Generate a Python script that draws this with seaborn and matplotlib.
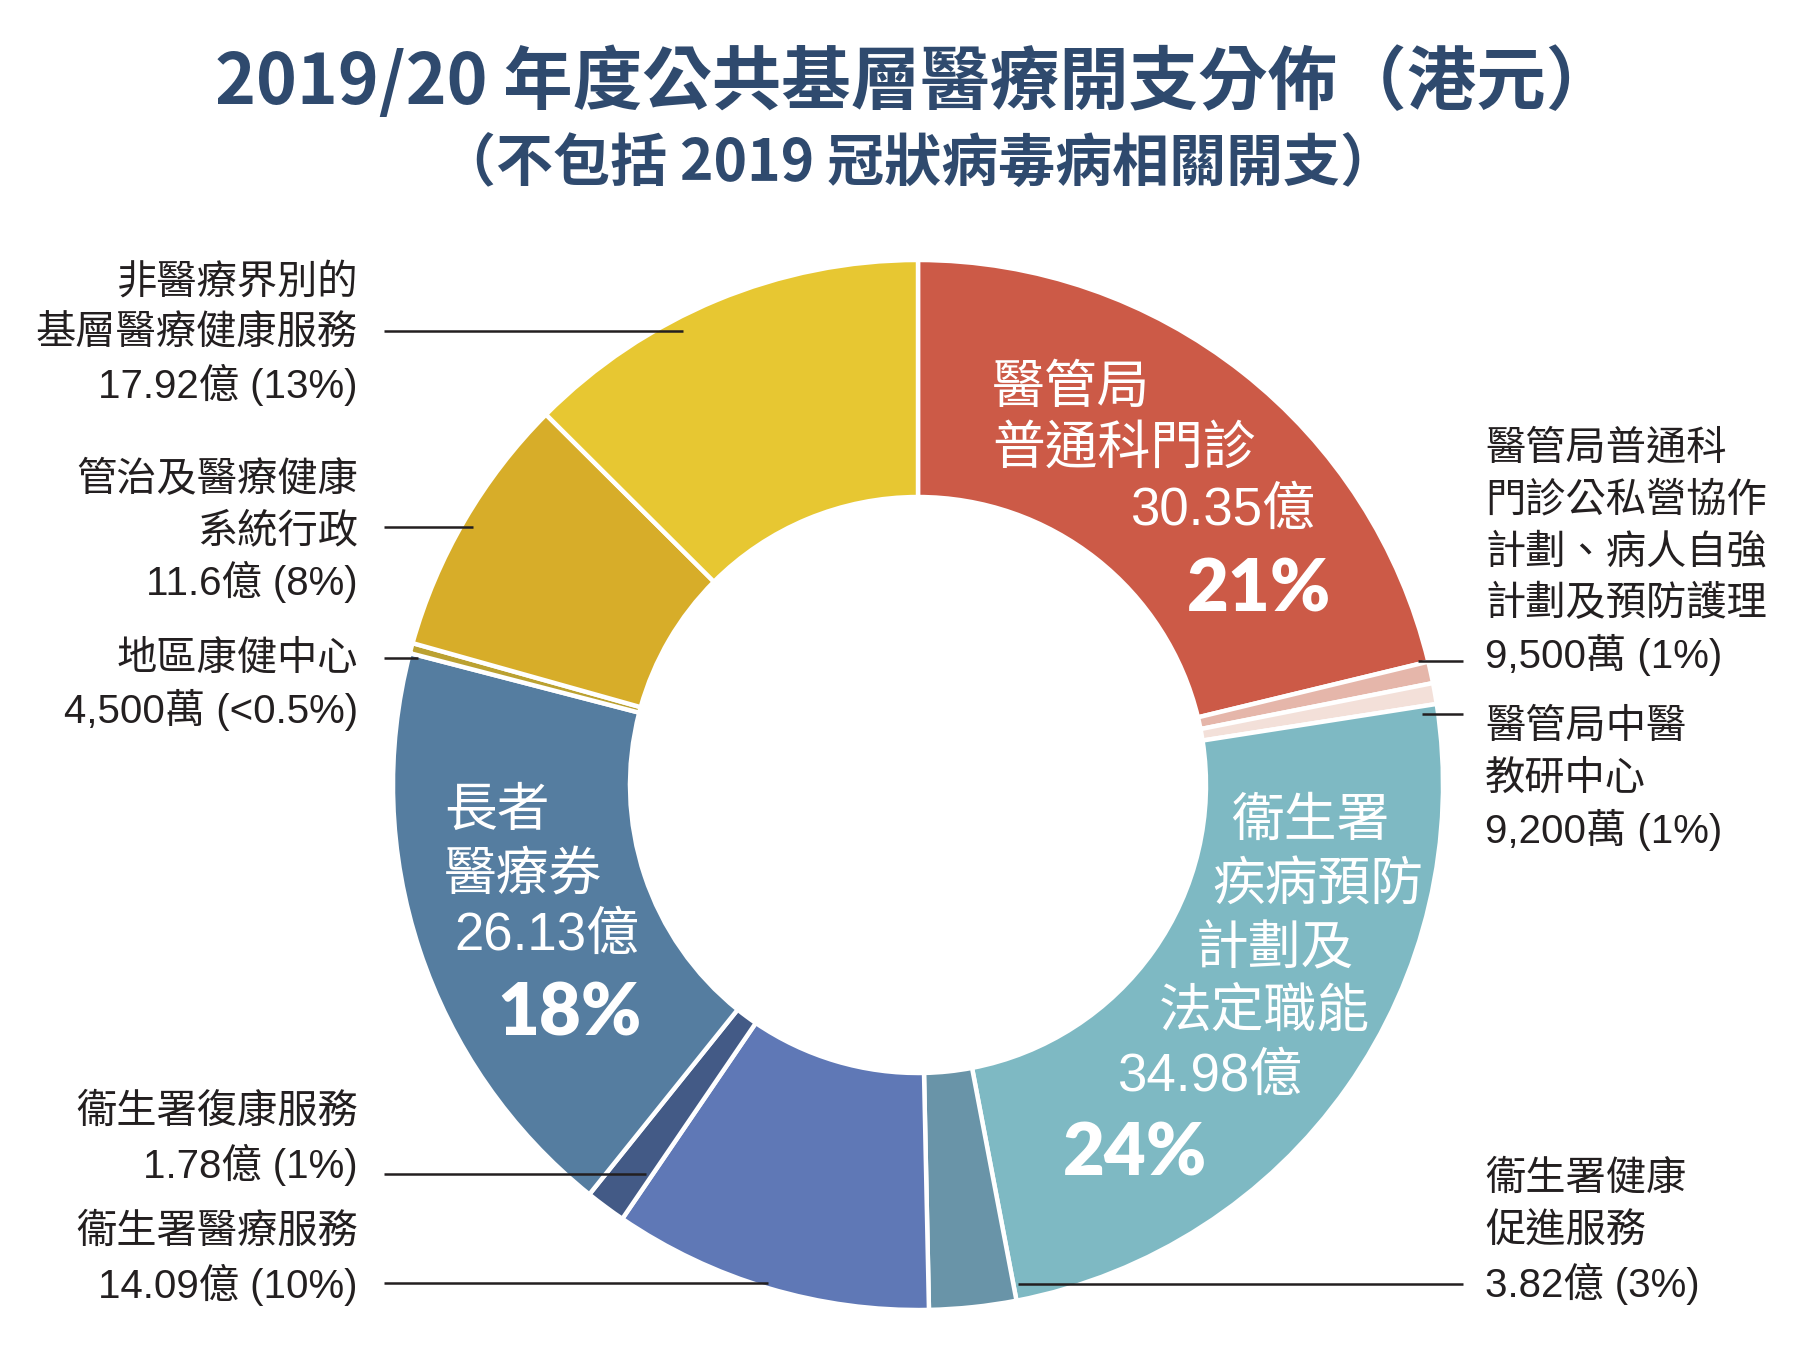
import matplotlib
matplotlib.use("Agg")
import matplotlib.pyplot as plt
import seaborn as sns

sns.set_theme(style="white")
plt.rcParams['font.family'] = ['Liberation Sans', 'Noto Sans CJK TC', 'DejaVu Sans']

# ---- data (億港元) ----
categories = [
    "醫管局普通科門診",
    "醫管局普通科門診公私營協作計劃、病人自強計劃及預防護理",
    "醫管局中醫教研中心",
    "衞生署疾病預防計劃及法定職能",
    "衞生署健康促進服務",
    "衞生署醫療服務",
    "衞生署復康服務",
    "長者醫療券",
    "地區康健中心",
    "管治及醫療健康系統行政",
    "非醫療界別的基層醫療健康服務",
]
values = [30.35, 0.95, 0.92, 34.98, 3.82, 14.09, 1.78, 26.13, 0.45, 11.6, 17.92]
colors = ["#CC5A47", "#E5B6AA", "#F3E0D9", "#7EB9C3", "#6994A8", "#5F78B6",
          "#435A86", "#557DA0", "#BBA131", "#D7AD29", "#E7C732"]

title = "2019/20 年度公共基層醫療開支分佈（港元）"
subtitle = "（不包括 2019 冠狀病毒病相關開支）"

W, H = 1800, 1355
fig = plt.figure(figsize=(W / 100, H / 100), dpi=100)
ax = fig.add_axes([0, 0, 1, 1])

def Y(y):
    return H - y

cx, cy, R, r_in = 918, 785, 525, 288
ax.pie(values, colors=colors, startangle=90, counterclock=False,
       radius=R, center=(cx, Y(cy)),
       wedgeprops=dict(width=R - r_in, edgecolor="white", linewidth=3.2))
ax.set_xlim(0, W)
ax.set_ylim(0, H)
ax.set_aspect("equal")
ax.axis("off")

TITLE_C = "#2F4A6E"
TXT_C = "#231F20"
fam_title = ['Noto Sans CJK TC', 'DejaVu Sans']

ax.text(915, Y(83), title, ha="center", va="center", fontsize=50,
        fontweight="bold", color=TITLE_C, family=fam_title)
ax.text(918, Y(165), subtitle, ha="center", va="center", fontsize=41,
        fontweight="bold", color=TITLE_C, family=fam_title)

def lines(x, y0, texts, ha, size=29, gap=50, color=TXT_C, weight="normal", fam=None):
    for i, t in enumerate(texts):
        kw = {}
        if fam:
            kw['family'] = fam
        ax.text(x, Y(y0 + i * gap), t, ha=ha, va="center", fontsize=size,
                color=color, fontweight=weight, **kw)

def leader(x0, x1, y):
    ax.plot([x0, x1], [Y(y), Y(y)], color=TXT_C, lw=1.8, solid_capstyle="butt")

# left labels
lines(358, 283, ["非醫療界別的", "基層醫療健康服務", "17.92億 (13%)"], "right", gap=51)
leader(384, 683, 331)
lines(358, 480, ["管治及醫療健康", "系統行政", "11.6億 (8%)"], "right", gap=51)
leader(384, 473, 527)
lines(358, 659, ["地區康健中心", "4,500萬 (<0.5%)"], "right", gap=51)
leader(384, 418, 658)
lines(358, 1112, ["衞生署復康服務", "1.78億 (1%)"], "right", gap=53)
leader(384, 646, 1174)
lines(358, 1232, ["衞生署醫療服務", "14.09億 (10%)"], "right", gap=53)
leader(384, 768, 1283)

# right labels
lines(1485, 449, ["醫管局普通科", "門診公私營協作", "計劃、病人自強", "計劃及預防護理", "9,500萬 (1%)"], "left", gap=51.5)
leader(1418, 1463, 661)
lines(1485, 727, ["醫管局中醫", "教研中心", "9,200萬 (1%)"], "left", gap=51.5)
leader(1422, 1463, 714)
lines(1485, 1179, ["衞生署健康", "促進服務", "3.82億 (3%)"], "left", gap=52.5)
leader(1018, 1463, 1284)

# inside labels
W_C = "white"
IN = 38
PCT = 52
fam_pct = ['Lato', 'DejaVu Sans']
lines(992, 389, ["醫管局", "普通科門診"], "left", size=IN, gap=61, color=W_C)
ax.text(1222, Y(511), "30.35億", ha="center", va="center", fontsize=IN, color=W_C)
ax.text(1259, Y(590), "21%", ha="center", va="center", fontsize=PCT, color=W_C,
        fontweight="heavy", family=fam_pct)

for (x, y, t) in [(1310, 822, "衞生署"), (1318, 886, "疾病預防"), (1275, 950, "計劃及"),
                  (1264, 1013, "法定職能"), (1209, 1077, "34.98億")]:
    ax.text(x, Y(y), t, ha="center", va="center", fontsize=IN, color=W_C)
ax.text(1135, Y(1154), "24%", ha="center", va="center", fontsize=PCT, color=W_C,
        fontweight="heavy", family=fam_pct)

lines(444, 812, ["長者", "醫療券"], "left", size=IN, gap=64, color=W_C)
ax.text(547, Y(936), "26.13億", ha="center", va="center", fontsize=IN, color=W_C)
ax.text(570, Y(1014), "18%", ha="center", va="center", fontsize=PCT, color=W_C,
        fontweight="heavy", family=fam_pct)

fig.savefig("out.png", dpi=100, facecolor="white")
